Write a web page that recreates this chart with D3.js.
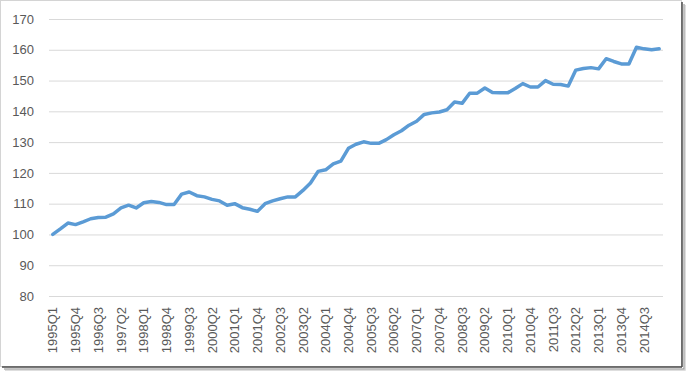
<!DOCTYPE html>
<html>
<head>
<meta charset="utf-8">
<script src="https://cdn.jsdelivr.net/npm/d3@7"></script>
<style>
  body { margin: 0; background: #fff; }
  svg { display: block; font-family: "Liberation Sans", Arial, sans-serif; }
</style>
</head>
<body>
<svg></svg>
<script>
const width = 686,
      height = 371,
      margin = {top: 19, right: 23, bottom: 75, left: 49};

// quarters 1995Q1 .. 2015Q1
const quarters = [];
for (let yr = 1995; yr <= 2015; yr++) {
  for (let q = 1; q <= 4; q++) {
    if (yr === 2015 && q > 1) break;
    quarters.push(yr + "Q" + q);
  }
}

const values = [100, 101.8, 103.7, 103.2, 104.1, 105.1, 105.5, 105.6, 106.7, 108.6,
                109.5, 108.6, 110.3, 110.7, 110.4, 109.7, 109.7, 113.1, 113.8, 112.6,
                112.2, 111.4, 110.9, 109.5, 110.0, 108.7, 108.2, 107.5, 110.0, 110.9,
                111.6, 112.2, 112.2, 114.3, 116.7, 120.5, 121.0, 122.9, 123.8, 128.0,
                129.3, 130.1, 129.6, 129.6, 130.8, 132.4, 133.7, 135.5, 136.8, 139.0,
                139.5, 139.8, 140.5, 143.0, 142.6, 145.9, 145.9, 147.6, 146.1, 146.0,
                146.0, 147.4, 149.0, 147.9, 147.9, 150.0, 148.8, 148.7, 148.2, 153.4,
                153.9, 154.2, 153.8, 157.1, 156.2, 155.4, 155.4, 160.8, 160.3, 160.0,
                160.3];

const xTickLabels = ["1995Q1", "1995Q4", "1996Q3", "1997Q2", "1998Q1", "1998Q4", "1999Q3",
                     "2000Q2", "2001Q1", "2001Q4", "2002Q3", "2003Q2", "2004Q1", "2004Q4",
                     "2005Q3", "2006Q2", "2007Q1", "2007Q4", "2008Q3", "2009Q2", "2010Q1",
                     "2010Q4", "2011Q3", "2012Q2", "2013Q1", "2013Q4", "2014Q3"];

const yTicks = [80, 90, 100, 110, 120, 130, 140, 150, 160, 170];

const plotW = 663 - margin.left,
      plotH = 296 - margin.top;

const svg = d3.select("svg")
              .attr("width", width)
              .attr("height", height);

// frame + drop shadow
svg.append("rect")
   .attr("x", 0.5).attr("y", 0.5)
   .attr("width", 681).attr("height", 366)
   .attr("fill", "#fff")
   .attr("stroke", "#d4d4d4");
[["#4a4a4a", 0, 1.5], ["#8a8a8a", 2, 1], ["#b8b8b8", 3, 1], ["#e0e0e0", 4, 1]].forEach(([c, off, w]) => {
  svg.append("line").attr("x1", 682 + off).attr("x2", 682 + off)
     .attr("y1", 2 + off).attr("y2", 367 + off)
     .attr("stroke", c).attr("stroke-width", w);
  svg.append("line").attr("x1", 2 + off).attr("x2", 682 + off)
     .attr("y1", 367 + off).attr("y2", 367 + off)
     .attr("stroke", c).attr("stroke-width", w);
});

const chart = svg.append("g")
                 .attr("transform", "translate(" + margin.left + "," + margin.top + ")");

const x = d3.scaleBand()
            .domain(quarters)
            .range([0, plotW]);

const y = d3.scaleLinear()
            .domain([80, 170])
            .range([plotH, 0]);

// gridlines
chart.append("g")
     .call(d3.axisLeft(y).tickValues(yTicks).tickSize(-plotW).tickFormat(""))
     .call(g => g.select(".domain").remove())
     .selectAll("line")
     .attr("stroke", "#d9d9d9");

// y labels
chart.append("g")
     .call(d3.axisLeft(y).tickValues(yTicks).tickSize(0).tickPadding(15))
     .call(g => g.select(".domain").remove())
     .selectAll("text")
     .attr("fill", "#595959")
     .attr("font-size", "13px")
     .attr("font-family", "'Liberation Sans', Arial, sans-serif");

// x labels
chart.append("g")
     .attr("transform", "translate(0," + plotH + ")")
     .call(d3.axisBottom(x).tickValues(xTickLabels).tickSize(0).tickPadding(0))
     .call(g => g.select(".domain").remove())
     .selectAll("text")
     .attr("fill", "#595959")
     .attr("font-size", "13px")
     .attr("font-family", "'Liberation Sans', Arial, sans-serif")
     .attr("y", 0).attr("x", 0)
     .attr("dy", "0.35em")
     .attr("text-anchor", "end")
     .attr("transform", "translate(0,11) rotate(-90)");

// series line
const line = d3.line()
               .x((d, i) => x(quarters[i]) + x.bandwidth() / 2)
               .y(d => y(d));

chart.append("path")
     .datum(values)
     .attr("fill", "none")
     .attr("stroke", "#5b9bd5")
     .attr("stroke-width", 3.5)
     .attr("stroke-linejoin", "round")
     .attr("stroke-linecap", "round")
     .attr("d", line);
</script>
</body>
</html>
